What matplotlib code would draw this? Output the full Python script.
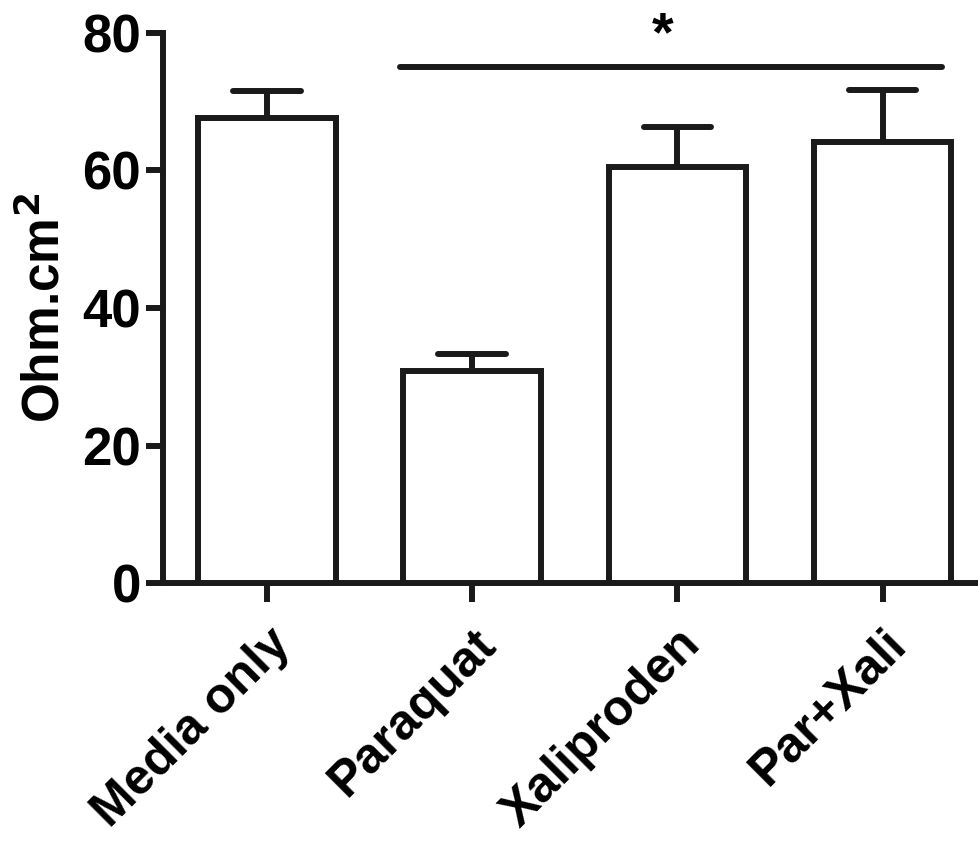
import matplotlib
matplotlib.use("Agg")
import matplotlib.pyplot as plt
import numpy as np

categories = ["Media only", "Paraquat", "Xaliproden", "Par+Xali"]
means = [67.6, 30.8, 60.5, 64.1]
sem = [4.0, 2.5, 5.8, 7.6]
yticks = [0, 20, 40, 60, 80]
sig_y = 75.1
sig_from, sig_to = 1, 3

plt.rcParams['font.family'] = ['Liberation Sans', 'DejaVu Sans']
plt.rcParams['font.weight'] = 'bold'

fig = plt.figure(figsize=(9.79, 8.43), dpi=100)
ax = fig.add_axes([0.1665, 0.3084, 0.8335, 0.6525])

lw = 4.3
x = np.arange(len(categories))
ax.bar(x, means, width=0.67, facecolor='white', edgecolor='#1a1a1a', linewidth=lw, zorder=3)
tops = np.array(means) + np.array(sem)
ax.vlines(x, means, tops, color='#1a1a1a', linewidth=lw, zorder=2)
caps = ax.hlines(tops, x - 0.165, x + 0.165, color='#1a1a1a', linewidth=lw, zorder=2)
caps.set_capstyle('round')

ax.set_xlim(-0.507, 3.47)
ax.set_ylim(0, 80)
ax.set_yticks(yticks)
ax.set_xticks(x)
ax.set_xticklabels(categories, rotation=45, ha='right', rotation_mode='anchor', fontsize=36, fontweight='bold')
ax.tick_params(axis='y', labelsize=38, width=lw, length=12, color='#1a1a1a', pad=4)
ax.tick_params(axis='x', width=lw, length=14, color='#1a1a1a', pad=13)
for lab in ax.get_yticklabels():
    lab.set_fontweight('bold')
ax.spines['top'].set_visible(False)
ax.spines['right'].set_visible(False)
for s in ['left', 'bottom']:
    ax.spines[s].set_linewidth(lw)
    ax.spines[s].set_color('#1a1a1a')
ax.set_ylabel('Ohm.cm$^\\mathbf{2}$', fontsize=37, fontweight='bold', labelpad=8)

ax.plot([sig_from - 0.35, sig_to + 0.29], [sig_y, sig_y], color='#1a1a1a', linewidth=lw,
        solid_capstyle='round', clip_on=False)
ax.text((sig_from + sig_to) / 2 - 0.07, sig_y + 0.6, '*', ha='center', va='bottom', fontsize=40,
        fontweight='bold', clip_on=False)

fig.savefig('out.png', dpi=100)
